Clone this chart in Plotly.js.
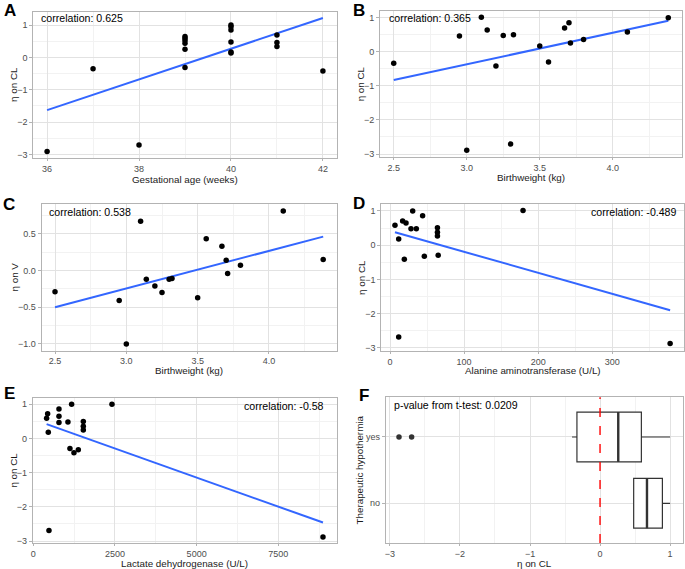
<!DOCTYPE html>
<html>
<head>
<meta charset="utf-8">
<script src="https://cdn.plot.ly/plotly-3.0.1.min.js"></script>
<style>
  html, body { margin: 0; padding: 0; background: #ffffff; }
  #chart { width: 685px; height: 569px; }
</style>
</head>
<body>
<div id="chart"></div>
<script>
// Panel A: gestational age vs eta on CL
const gaWeeks = [36, 37, 38, 39, 39, 39, 39, 39, 39, 40, 40, 40, 40, 40, 40, 41, 41, 41, 42];
const etaClGa = [-2.91, -0.35, -2.71, 0.65, 0.59, 0.52, 0.44, 0.25, -0.31, 1.0, 0.95, 0.85, 0.48, 0.17, 0.14, 0.69, 0.46, 0.34, -0.42];
const fitGaX = [36, 42];
const fitGaY = [-1.63, 1.22];

// Panel B: birthweight vs eta on CL
const bwKgB = [2.5, 2.95, 3.0, 3.1, 3.14, 3.2, 3.25, 3.3, 3.32, 3.5, 3.56, 3.67, 3.7, 3.71, 3.8, 4.1, 4.38];
const etaClBw = [-0.34, 0.46, -2.89, 1.01, 0.64, -0.42, 0.48, -2.71, 0.5, 0.17, -0.3, 0.7, 0.85, 0.26, 0.36, 0.58, 1.0];
const fitBwX = [2.5, 4.38];
const fitBwY = [-0.83, 0.91];

// Panel C: birthweight vs eta on V
const bwKgC = [2.5, 2.95, 3.0, 3.1, 3.14, 3.2, 3.25, 3.3, 3.32, 3.5, 3.56, 3.67, 3.7, 3.71, 3.8, 4.1, 4.38];
const etaVBw = [-0.29, -0.41, -1.0, 0.67, -0.12, -0.21, -0.3, -0.12, -0.11, -0.37, 0.43, 0.33, 0.14, -0.04, 0.07, 0.81, 0.15];
const fitVX = [2.5, 4.38];
const fitVY = [-0.5, 0.46];

// Panel D: ALT vs eta on CL
const altUL = [6.7, 11.7, 11.7, 17, 19.3, 21.6, 28.3, 30.6, 35.5, 44, 46.3, 64, 64, 64, 65, 179.5, 378];
const etaClAlt = [0.58, 0.18, -2.68, 0.71, -0.41, 0.65, 0.48, 1.0, 0.48, 0.86, -0.32, 0.51, 0.38, 0.27, -0.29, 1.01, -2.87];
const fitAltX = [6.7, 378];
const fitAltY = [0.38, -1.9];

// Panel E: LDH vs eta on CL
const ldhUL = [408, 439, 459, 480, 786, 786, 786, 1061, 1122, 1173, 1245, 1378, 1531, 1531, 1531, 2408, 8867];
const etaClLdh = [0.59, 0.72, 0.18, -2.69, 0.86, 0.65, 0.47, 0.48, -0.29, 1.0, -0.42, -0.33, 0.5, 0.36, 0.25, 1.0, -2.88];
const fitLdhX = [408, 8867];
const fitLdhY = [0.42, -2.46];

// Panel F: therapeutic hypothermia boxplots (precomputed stats)
const hypoGroups = ["yes", "no"];
const hypoPos = [1, 0];
const boxLow = [-0.4, 0.48];
const boxQ1 = [-0.33, 0.48];
const boxMedian = [0.26, 0.67];
const boxQ3 = [0.59, 0.89];
const boxHigh = [1.0, 1.0];
const outlierX = [-2.87, -2.69];
const outlierGroup = [1, 1];

const corrLabels = ["correlation: 0.625", "correlation: 0.365", "correlation: 0.538",
  "correlation: -0.489", "correlation: -0.58", "p-value from t-test: 0.0209"];
const panelLetters = ["A", "B", "C", "D", "E", "F"];
const xTitles = ["Gestational age (weeks)", "Birthweight (kg)", "Birthweight (kg)",
  "Alanine aminotransferase (U/L)", "Lactate dehydrogenase (U/L)", "η on CL"];
const yTitles = ["η on CL", "η on CL", "η on V", "η on CL", "η on CL", "Therapeutic hypothermia"];

const FONT = "Liberation Sans, Arial, Helvetica, sans-serif";
const W = 685, H = 569;
const px = (v) => v / W;
const py = (v) => 1 - v / H;

// panel boxes in pixels: [left, right, top, bottom]
const panels = [
  [33.3, 336.7, 11.5, 158.3],
  [380, 682, 10.7, 156.9],
  [41.6, 336.6, 204.3, 350.6],
  [381.2, 683.9, 204.1, 350.7],
  [32.8, 336.8, 397.8, 543.4],
  [385.7, 683.4, 397.2, 543.1],
];
const xTitleY = [179.5, 178, 370.6, 370.6, 563, 563];
const yTitleX = [14, 360.5, 14, 361.5, 14, 359.3];

function axis(n, isX, range, tick0, dtick, minorDtick, extra) {
  const p = panels[n - 1];
  const domain = isX ? [px(p[0]), px(p[1])] : [py(p[3]), py(p[2])];
  const other = isX ? "y" : "x";
  return Object.assign({
    domain,
    range,
    anchor: n === 1 ? other : other + n,
    tick0,
    dtick,
    showline: true,
    mirror: true,
    linecolor: "#b3b3b3",
    linewidth: 1,
    ticks: "outside",
    ticklen: isX ? 2 : 3,
    tickcolor: "#b3b3b3",
    tickfont: { family: FONT, size: 9, color: "#4d4d4d" },
    showgrid: true,
    gridcolor: "#e2e2e2",
    gridwidth: 1,
    zeroline: false,
    minor: minorDtick ? { dtick: minorDtick, tick0, showgrid: true, gridcolor: "#f2f2f2", gridwidth: 1, ticks: "" } : undefined,
    fixedrange: true,
  }, extra || {});
}

function scatterPair(x, y, fx, fy, n) {
  const xa = n === 1 ? "x" : "x" + n;
  const ya = n === 1 ? "y" : "y" + n;
  return [
    { x: fx, y: fy, xaxis: xa, yaxis: ya, type: "scatter", mode: "lines",
      line: { color: "#3366ff", width: 2 }, hoverinfo: "skip" },
    { x, y, xaxis: xa, yaxis: ya, type: "scatter", mode: "markers",
      marker: { color: "#000000", size: 5.5 }, hoverinfo: "x+y" },
  ];
}

const medianX = [];
const medianY = [];
boxMedian.forEach((m, i) => {
  medianX.push(m, m, null);
  medianY.push(hypoPos[i] - 0.375, hypoPos[i] + 0.375, null);
});

const traces = [
  ...scatterPair(gaWeeks, etaClGa, fitGaX, fitGaY, 1),
  ...scatterPair(bwKgB, etaClBw, fitBwX, fitBwY, 2),
  ...scatterPair(bwKgC, etaVBw, fitVX, fitVY, 3),
  ...scatterPair(altUL, etaClAlt, fitAltX, fitAltY, 4),
  ...scatterPair(ldhUL, etaClLdh, fitLdhX, fitLdhY, 5),
  {
    type: "box", orientation: "h", xaxis: "x6", yaxis: "y6",
    y: hypoPos, q1: boxQ1, median: boxMedian, q3: boxQ3,
    lowerfence: boxLow, upperfence: boxHigh,
    width: 0.75, whiskerwidth: 0, boxpoints: false,
    fillcolor: "#ffffff", line: { color: "#333333", width: 1.2 },
  },
  { x: medianX, y: medianY, xaxis: "x6", yaxis: "y6", type: "scatter", mode: "lines",
    line: { color: "#333333", width: 2.4 }, hoverinfo: "skip" },
  { x: outlierX, y: outlierGroup, xaxis: "x6", yaxis: "y6", type: "scatter", mode: "markers",
    marker: { color: "#333333", size: 5.5 } },
];

const layout = {
  width: W,
  height: H,
  margin: { l: 0, r: 0, t: 0, b: 0 },
  paper_bgcolor: "#ffffff",
  plot_bgcolor: "#ffffff",
  showlegend: false,
  font: { family: FONT },
  xaxis: axis(1, true, [35.7, 42.3], 36, 2, 1),
  yaxis: axis(1, false, [-3.12, 1.42], 0, 1, 0.5),
  xaxis2: axis(2, true, [2.406, 4.474], 2.5, 0.5, 0.25, { tickformat: ".1f" }),
  yaxis2: axis(2, false, [-3.085, 1.205], 0, 1, 0.5),
  xaxis3: axis(3, true, [2.406, 4.474], 2.5, 0.5, 0.25, { tickformat: ".1f" }),
  yaxis3: axis(3, false, [-1.09, 0.9], 0, 0.5, 0.25, { tickformat: ".1f" }),
  xaxis4: axis(4, true, [-11.9, 396.6], 0, 100, 50),
  yaxis4: axis(4, false, [-3.08, 1.2], 0, 1, 0.5),
  xaxis5: axis(5, true, [-15, 9290], 0, 2500, 1250),
  yaxis5: axis(5, false, [-3.07, 1.19], 0, 1, 0.5),
  xaxis6: axis(6, true, [-3.06, 1.19], 0, 1, 0.5),
  yaxis6: axis(6, false, [-0.6, 1.6], 0, 1, null,
    { tickmode: "array", tickvals: hypoPos, ticktext: hypoGroups }),
  shapes: [
    { type: "line", xref: "x6", yref: "y6 domain", x0: 0, x1: 0, y0: 0, y1: 1,
      line: { color: "#ff0000", width: 1.4, dash: "dash" } },
  ],
  annotations: [],
};

const corrPos = [
  { x: 0.02, y: 0.954, anchor: "left" },
  { x: 0.022, y: 0.948, anchor: "left" },
  { x: 0.019, y: 0.945, anchor: "left" },
  { x: 0.981, y: 0.945, anchor: "right" },
  { x: 0.963, y: 0.946, anchor: "right" },
  { x: 0.02, y: 0.947, anchor: "left" },
];
corrPos.forEach((p, i) => {
  const n = i + 1;
  layout.annotations.push({
    xref: (n === 1 ? "x" : "x" + n) + " domain", yref: (n === 1 ? "y" : "y" + n) + " domain",
    x: p.x, y: p.y, xanchor: p.anchor, yanchor: "middle", showarrow: false,
    text: corrLabels[i], font: { family: FONT, size: 10.6, color: "#000000" },
  });
});

panels.forEach((p, i) => {
  layout.annotations.push({
    xref: "paper", yref: "paper", x: px((p[0] + p[1]) / 2), y: py(xTitleY[i]),
    xanchor: "center", yanchor: "middle", showarrow: false,
    text: xTitles[i], font: { family: FONT, size: 9.8, color: "#1a1a1a" },
  });
  layout.annotations.push({
    xref: "paper", yref: "paper", x: px(yTitleX[i]), y: py((p[2] + p[3]) / 2),
    xanchor: "center", yanchor: "middle", showarrow: false, textangle: -90,
    text: yTitles[i], font: { family: FONT, size: 9.8, color: "#1a1a1a" },
  });
});

const letterPos = [[9.5, 11], [359.5, 11], [9, 204], [359, 203], [9, 393.5], [364, 395]];
letterPos.forEach((p, i) => {
  layout.annotations.push({
    xref: "paper", yref: "paper", x: px(p[0]), y: py(p[1]),
    xanchor: "center", yanchor: "middle", showarrow: false,
    text: "<b>" + panelLetters[i] + "</b>", font: { family: FONT, size: 17, color: "#000000" },
  });
});

Plotly.newPlot("chart", traces, layout, { displayModeBar: false, staticPlot: true });
</script>
</body>
</html>
